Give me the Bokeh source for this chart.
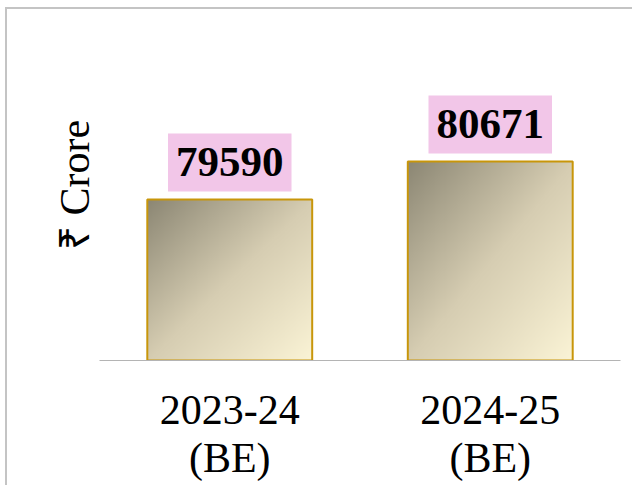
import numpy as np
from bokeh.plotting import figure
from bokeh.models import Range1d, FixedTicker, Label, ColumnDataSource
from bokeh.embed import file_html
from bokeh.resources import INLINE

# ---- data ----
categories = ["2023-24\n(BE)", "2024-25\n(BE)"]
values = [79590, 80671]
value_labels = ["79590", "80671"]
y_axis_title = "₹ Crore"

# ---- styling ----
SERIF = "Times New Roman"
Y0, Y1 = 75000, 85000
BAR_W = 0.633
xs = [i + 0.5 for i in range(len(categories))]

p = figure(width=627, height=478, output_backend="svg", toolbar_location=None,
           x_range=Range1d(0, len(categories)), y_range=Range1d(Y0, Y1),
           min_border_left=92, min_border_right=14, min_border_top=0, min_border_bottom=127)
p.outline_line_color = None
p.grid.visible = False
p.background_fill_color = "white"
p.border_fill_color = "white"
p.styles = {"border-left": "2px solid #c4c4c4", "border-top": "2px solid #c4c4c4"}
p.margin = (7, 0, 0, 5)


def gradient_img(h=220, w=180):
    u = np.linspace(0, 1, w)[None, :]
    v = np.linspace(1, 0, h)[:, None]  # row 0 = bottom
    t = (u + v) / 2.0
    stops_t = [0.0, 0.5, 1.0]
    stops_c = np.array([[140, 135, 116], [214, 205, 178], [251, 244, 214]], dtype=float)
    rgb = [np.interp(t, stops_t, stops_c[:, k]) for k in range(3)]
    img = np.zeros((h, w), dtype=np.uint32)
    view = img.view(dtype=np.uint8).reshape((h, w, 4))
    for k in range(3):
        view[:, :, k] = rgb[k].astype(np.uint8)
    view[:, :, 3] = 255
    return img


src = ColumnDataSource(dict(
    image=[gradient_img() for _ in values],
    x=[x - BAR_W / 2 for x in xs],
    y=[Y0] * len(values),
    dw=[BAR_W] * len(values),
    dh=[v - Y0 for v in values],
))
p.image_rgba(image="image", x="x", y="y", dw="dw", dh="dh", source=src)
p.vbar(x=xs, top=values, bottom=Y0, width=BAR_W, fill_color=None,
       line_color="#c8960a", line_width=2)

for x, v, lab in zip(xs, values, value_labels):
    p.add_layout(Label(x=x, y=v, text=lab, y_offset=8, text_align="center",
                       text_baseline="bottom", text_font=SERIF, text_font_style="bold",
                       text_font_size="43px", text_color="black",
                       background_fill_color="#f2c6e8",
                       padding=dict(left=8, right=8, top=15, bottom=15)))

# x axis
xa = p.xaxis[0]
xa.ticker = FixedTicker(ticks=xs)
xa.major_label_overrides = {x: c for x, c in zip(xs, categories)}
xa.axis_line_color = "#b4b4b4"
xa.axis_line_width = 1
xa.major_tick_line_color = None
xa.minor_tick_line_color = None
xa.major_label_standoff = 20
xa.major_label_text_font = SERIF
xa.major_label_text_font_size = "42px"
xa.major_label_text_color = "black"
xa.major_label_text_line_height = 1.05

# y axis (title only)
ya = p.yaxis[0]
ya.ticker = FixedTicker(ticks=[])
ya.axis_label = y_axis_title
ya.axis_label_text_font = SERIF
ya.axis_label_text_font_size = "42px"
ya.axis_label_text_font_style = "normal"
ya.axis_label_text_color = "black"
ya.axis_label_standoff = 2
ya.axis_line_color = None
ya.major_tick_line_color = None
ya.minor_tick_line_color = None
ya.major_label_standoff = 0

open("out.html", "w").write(file_html(p, INLINE))
